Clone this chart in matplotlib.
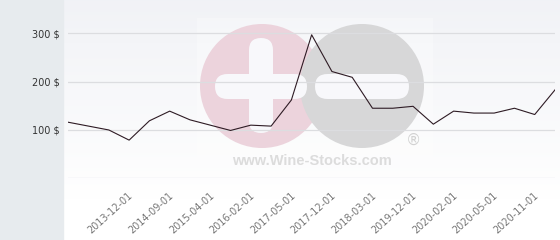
import numpy as np
import matplotlib
matplotlib.use("Agg")
import matplotlib.pyplot as plt
import matplotlib.transforms as mtransforms
from matplotlib.patches import Rectangle, Circle, FancyBboxPatch

# ---- data ----
prices = [116, 108, 100, 79, 119, 139, 121, 110, 99, 110, 108, 162, 297,
          221, 209, 145, 145, 149, 112, 139, 135, 135, 145, 132, 183]
tick_labels = ["", "", "", "2013-12-01", "", "2014-09-01", "", "2015-04-01", "",
               "2016-02-01", "", "2017-05-01", "", "2017-12-01", "", "2018-03-01",
               "", "2019-12-01", "", "2020-02-01", "", "2020-05-01", "", "2020-11-01", ""]
y_ticks = [100, 200, 300]
y_tick_labels = ["100 $", "200 $", "300 $"]

W, H = 560, 240
fig = plt.figure(figsize=(W / 100, H / 100), dpi=100)

# background: gradient plot zone + gray sidebar
bg = fig.add_axes([0, 0, 1, 1], zorder=0)
bg.set_xlim(0, W)
bg.set_ylim(H, 0)
bg.axis("off")
grad = np.linspace(0, 1, 200).reshape(-1, 1)
top = np.array([0.945, 0.95, 0.965])
bot = np.array([1.0, 1.0, 1.0])
img = top[None, None, :] * (1 - grad[:, :, None]) + bot[None, None, :] * grad[:, :, None]
bg.imshow(img, extent=[63, W, 200, 0], aspect="auto", zorder=0)
bg.add_patch(Rectangle((63, 200), W - 63, 40, color="white", zorder=0))
bg.add_patch(Rectangle((0, 0), 63, H, color="#e7ebee", zorder=1))

# watermark
bg.add_patch(Rectangle((197, 18), 236, 157, color="white", alpha=0.3, zorder=1, lw=0))
bg.add_patch(Circle((262, 86), 62, color="#ecd3dc", zorder=2, lw=0))
bg.add_patch(Circle((362, 86), 62, color="#d7d7d8", zorder=3, lw=0))
wc = "#f8f8fb"
bg.add_patch(FancyBboxPatch((249 + 12, 38 + 12), 0, 95 - 24,
                            boxstyle="round,pad=12", color=wc, zorder=4, lw=0))
bg.add_patch(FancyBboxPatch((215 + 12.5, 74 + 12.5), 92 - 25, 0,
                            boxstyle="round,pad=12.5", color=wc, zorder=4, lw=0))
bg.add_patch(FancyBboxPatch((315 + 12.5, 74 + 12.5), 94 - 25, 0,
                            boxstyle="round,pad=12.5", color=wc, zorder=4, lw=0))
bg.text(312, 161, "www.Wine-Stocks.com", ha="center", va="center",
        fontsize=10.5, fontweight="bold", color="#dcdcdc",
        family="Liberation Sans", zorder=5)
bg.text(413, 140, "®", ha="center", va="center", fontsize=11,
        color="#d2d2d2", family="DejaVu Sans", zorder=5)

# main chart
ax = fig.add_axes([68.3 / W, (H - 178.3) / H, (555 - 68.3) / W, 178.3 / H], zorder=2)
ax.patch.set_alpha(0)
x = np.arange(len(prices))
ax.plot(x, prices, color="#2e1b24", lw=0.8, zorder=3)
ax.set_xlim(0, len(prices) - 1)
ax.set_ylim(0, 369)
for v in [0] + y_ticks:
    ax.axhline(v, color="#dcdde0", lw=0.9, zorder=1)
for s in ax.spines.values():
    s.set_visible(False)
ax.set_yticks(y_ticks)
ax.set_yticklabels(y_tick_labels, fontsize=7, color="#333333", family="DejaVu Sans")
ax.tick_params(axis="y", length=0, pad=6)
ax.set_xticks(x)
ax.set_xticklabels(tick_labels, rotation=42, ha="right", rotation_mode="anchor",
                   fontsize=7, color="#777777")
ax.tick_params(axis="x", length=0, pad=9)
offset = mtransforms.ScaledTranslation(-1 / 100, 0, fig.dpi_scale_trans)
for lbl in ax.get_xticklabels():
    lbl.set_transform(lbl.get_transform() + offset)

fig.savefig("out.png", dpi=100)
